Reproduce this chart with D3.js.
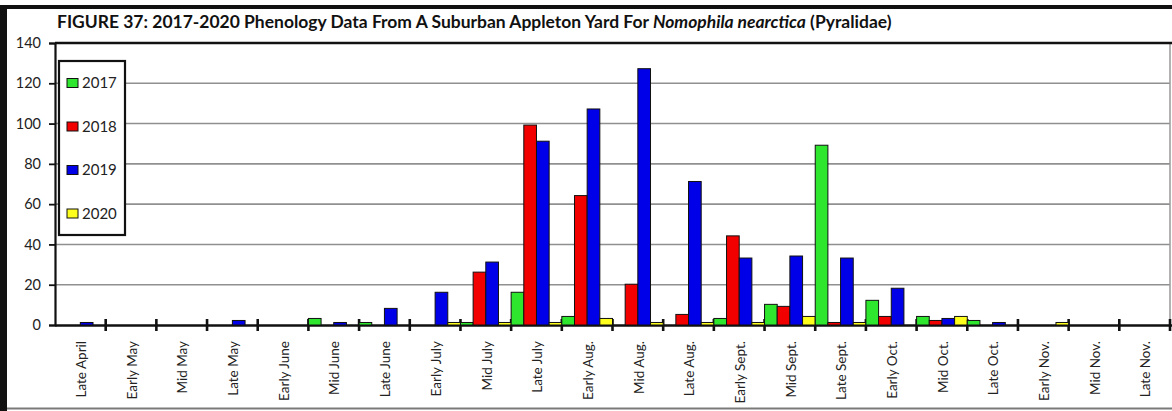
<!DOCTYPE html>
<html>
<head>
<meta charset="utf-8">
<style>
  html, body { margin: 0; padding: 0; background: #fff; }
  svg { display: block; font-family: Lato, "Open Sans", sans-serif; }
</style>
<script src="https://cdn.jsdelivr.net/npm/d3@7"></script>
</head>
<body>
<div id="chart"></div>
<script>
/* Figure 37 — Nomophila nearctica phenology, grouped bars per half-month period. */
var CATEGORIES = ["Late April", "Early May", "Mid May", "Late May", "Early June", "Mid June", "Late June",
  "Early July", "Mid July", "Late July", "Early Aug.", "Mid Aug.", "Late Aug.", "Early Sept.", "Mid Sept.",
  "Late Sept.", "Early Oct.", "Mid Oct.", "Late Oct.", "Early Nov.", "Mid Nov.", "Late Nov."];
var YEARS = ["2017", "2018", "2019", "2020"];
var Y2017 = [0, 0, 0, 0, 0, 3, 1, 0, 1, 16, 4, 0, 0, 3, 10, 89, 12, 4, 2, 0, 0, 0];
var Y2018 = [0, 0, 0, 0, 0, 0, 0, 0, 26, 99, 64, 20, 5, 44, 9, 1, 4, 2, 0, 0, 0, 0];
var Y2019 = [1, 0, 0, 2, 0, 1, 8, 16, 31, 91, 107, 127, 71, 33, 34, 33, 18, 3, 1, 0, 0, 0];
var Y2020 = [0, 0, 0, 0, 0, 0, 0, 1, 1, 1, 3, 1, 1, 1, 4, 1, 0, 4, 0, 1, 0, 0];
var Y_TICKS = [0, 20, 40, 60, 80, 100, 120, 140];
var COLORS = ["#2ee62e", "#f20000", "#0000e8", "#ffff1e"];

(function () {
  "use strict";
  var W = 1172, H = 411;
  var series = [Y2017, Y2018, Y2019, Y2020];
  var left = 55, right = 1170, top = 43, base = 325;

  var svg = d3.select("#chart").append("svg").attr("width", W).attr("height", H);

  var x = d3.scaleBand().domain(CATEGORIES).range([left, right]).padding(0);
  var xi = d3.scaleBand().domain(YEARS).range([0, x.bandwidth()]).padding(0);
  var y = d3.scaleLinear().domain([0, 140]).range([base, top]);

  // page frame
  svg.append("rect").attr("x", 0).attr("y", 5).attr("width", W).attr("height", 4).attr("fill", "#111");
  svg.append("rect").attr("x", 0).attr("y", 5).attr("width", 7).attr("height", H - 5).attr("fill", "#111");
  svg.append("line").attr("x1", 7).attr("x2", W).attr("y1", 408.5).attr("y2", 408.5)
    .attr("stroke", "#7a7a7a").attr("stroke-width", 2);

  // title, scaled to the reference width
  var title = svg.append("text").attr("x", 57).attr("y", 28).attr("font-weight", "bold")
    .attr("font-size", 19).attr("fill", "#111");
  title.append("tspan").text("FIGURE 37: 2017-2020 Phenology Data From A Suburban Appleton Yard For ");
  title.append("tspan").attr("font-style", "italic").text("Nomophila nearctica");
  title.append("tspan").text(" (Pyralidae)");
  var tw = title.node().getComputedTextLength();
  title.attr("font-size", 19 * 835 / tw);

  // gridlines
  svg.append("g").selectAll("line").data(Y_TICKS.filter(function (t) { return t > 0 && t < 140; })).join("line")
    .attr("x1", left).attr("x2", right).attr("y1", function (d) { return y(d); }).attr("y2", function (d) { return y(d); })
    .attr("stroke", "#909090").attr("stroke-width", 1.6);
  svg.append("line").attr("x1", right).attr("x2", right).attr("y1", top).attr("y2", base)
    .attr("stroke", "#999").attr("stroke-width", 1.5);
  svg.append("line").attr("x1", left).attr("x2", W).attr("y1", top).attr("y2", top)
    .attr("stroke", "#111").attr("stroke-width", 2.5);

  // x axis line + cross ticks at category boundaries (drawn under the bars)
  svg.append("line").attr("x1", left).attr("x2", W).attr("y1", base + 0.5).attr("y2", base + 0.5)
    .attr("stroke", "#111").attr("stroke-width", 2.5);
  svg.append("g").selectAll("line").data(CATEGORIES.slice(1).concat(["end"])).join("line")
    .attr("x1", function (d, i) { return left + (i + 1) * x.step(); })
    .attr("x2", function (d, i) { return left + (i + 1) * x.step(); })
    .attr("y1", base - 6).attr("y2", base + 6)
    .attr("stroke", "#111").attr("stroke-width", 2.6);

  // bars (zero counts are not drawn)
  var rows = [];
  CATEGORIES.forEach(function (c, i) {
    YEARS.forEach(function (yr, k) { if (series[k][i] > 0) rows.push({ cat: c, yr: yr, k: k, v: series[k][i] }); });
  });
  svg.append("g").selectAll("rect").data(rows).join("rect")
    .attr("x", function (d) { return x(d.cat) + xi(d.yr); })
    .attr("y", function (d) { return y(d.v) - 0.5; })
    .attr("width", xi.bandwidth())
    .attr("height", function (d) { return base - y(d.v) + 0.5; })
    .attr("fill", function (d) { return COLORS[d.k]; })
    .attr("stroke", "#111").attr("stroke-width", 1);

  // y axis
  var yAxis = svg.append("g").attr("transform", "translate(" + left + ",0)")
    .call(d3.axisLeft(y).tickValues(Y_TICKS).tickSize(6).tickPadding(8));
  yAxis.select(".domain").attr("stroke", "#111").attr("stroke-width", 2.2);
  yAxis.selectAll(".tick line").attr("stroke", "#111").attr("stroke-width", 1.8);
  yAxis.selectAll(".tick text").attr("font-family", "Lato, sans-serif").attr("font-size", 14.5).attr("fill", "#222");

  // rotated category labels
  svg.append("g").selectAll("text").data(CATEGORIES).join("text")
    .attr("transform", function (d) { return "translate(" + (x(d) + x.bandwidth() / 2 + 1) + "," + 341 + ") rotate(-90)"; })
    .attr("text-anchor", "end").attr("dy", "0.35em")
    .attr("font-size", 13.5).attr("fill", "#222")
    .text(function (d) { return d; });

  // legend
  var lg = svg.append("g");
  lg.append("rect").attr("x", 59).attr("y", 61).attr("width", 66).attr("height", 174)
    .attr("fill", "#fff").attr("stroke", "#111").attr("stroke-width", 2.2);
  var item = lg.selectAll("g.item").data(YEARS).join("g").attr("class", "item")
    .attr("transform", function (d, i) { return "translate(67," + (83 + i * 43.5) + ")"; });
  item.append("rect").attr("x", 0).attr("y", -4.5).attr("width", 11).attr("height", 9)
    .attr("fill", function (d, i) { return COLORS[i]; }).attr("stroke", "#111").attr("stroke-width", 1);
  item.append("text").attr("x", 15).attr("dy", "0.36em").attr("font-size", 15).attr("fill", "#222")
    .text(function (d) { return d; });
})();
</script>
</body>
</html>
